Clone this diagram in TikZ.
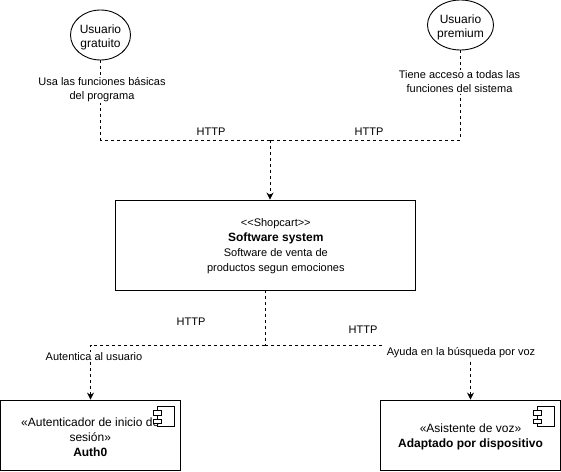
\documentclass[tikz,border=0pt]{standalone}
\usepackage{fontspec}
\setmainfont{Liberation Sans}
\usetikzlibrary{positioning,arrows.meta,shapes.geometric}
\newcommand{\toproom}{\rule{0pt}{13pt}}
\tikzset{
    module/.style={%
        draw, inner sep=0pt,
        minimum width=#1,
        align=center,
        font=\fontsize{12}{15}\selectfont
        },
    module/.default=179.5pt,
    actor/.style={%
        draw, ellipse, inner sep=0pt,
        minimum width=60pt, minimum height=50pt,
        align=center,
        font=\fontsize{12}{14}\selectfont
        },
    linklabel/.style={%
        fill=white, inner sep=1pt,
        align=center,
        font=\fontsize{11}{14}\selectfont
        },
    protolabel/.style={%
        inner sep=0pt,
        font=\fontsize{11}{14}\selectfont
        },
    link/.style={draw, line width=0.9pt, dash pattern=on 3pt off 3pt},
    linkto/.style={link, -{Stealth[length=7pt,width=7pt]}},
    compicon/.pic={
        \draw[line width=0.9pt] (-23,7) rectangle (-6,27.3);
        \draw[line width=0.9pt, fill=white] (-27,11) rectangle (-19,16);
        \draw[line width=0.9pt, fill=white] (-27,19.5) rectangle (-19,24);
    }
}
\begin{document}
\begin{tikzpicture}[x=1pt,y=-1pt,line width=0.9pt]

\useasboundingbox (0,0) rectangle (561,471);

\node[actor] (Free) at (100.5,35) {\toproom Usuario\\gratuito};

\node[actor] (Premium) at (460.5,25) {\toproom Usuario\\premium};

\node[module=300pt, minimum height=90pt] (System) at (265.3,245) {};

\node[inner sep=0pt, align=center, font=\fontsize{11}{15}\selectfont] (SystemText) at (275.8,246.5) {%
 <{}<Shopcart>{}>\\
 {\fontsize{12}{15}\selectfont\bfseries Software system}\\
 Software de venta de\\
 productos segun emociones
};

\node[module, minimum height=70pt] (Auth) at (90.25,435) {%
 \toproom «Autenticador de inicio de\\sesión»\\\textbf{Auth0}
};

\node[module, minimum height=70pt] (Voice) at (470.5,435) {%
 \toproom «Asistente de voz»\\\textbf{Adaptado por dispositivo}
};

\pic at (Auth.north east) {compicon};
\pic at (Voice.north east) {compicon};

\coordinate (TopBus) at (270,140);
\coordinate (LowBus) at (265.3,345);

\draw[link] (Free) |- (TopBus);
\draw[link] (Premium) |- (TopBus);
\draw[linkto] (TopBus) -- (TopBus |- System.north);

\draw[link] (System.south -| LowBus) -- (LowBus);
\draw[linkto] (LowBus) -| ([xshift=0.25pt]Auth.north);
\draw[linkto] (LowBus) -| (Voice.north);

\node[linklabel] (FreeText) at (102,89.5) {Usa las funciones básicas\\del programa};

\node[linklabel] (PremiumText) at (459.5,82) {Tiene acceso a todas las\\funciones del sistema};

\node[linklabel] (AuthText) at (94,357) {Autentica al usuario};

\node[linklabel, inner sep=2.5pt] (VoiceText) at (461,353) {Ayuda en la búsqueda por voz};

\node[protolabel] (HttpFree) at (211,132) {HTTP};
\node[protolabel] (HttpPremium) at (369,132) {HTTP};
\node[protolabel] (HttpAuth) at (191,322) {HTTP};
\node[protolabel] (HttpVoice) at (363,330) {HTTP};

\end{tikzpicture}
\end{document}
